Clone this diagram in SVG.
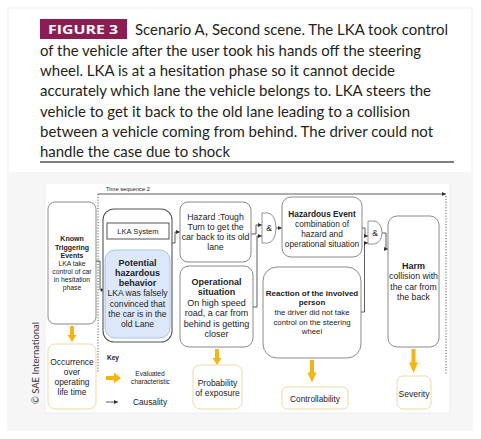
<svg xmlns="http://www.w3.org/2000/svg" width="481" height="439" viewBox="0 0 481 439">
<defs>
<style>
.cap{font-family:Lato,"Open Sans","Liberation Sans",sans-serif;font-size:15px;fill:#231f20}
.t{font-family:"Liberation Sans",Arial,sans-serif;fill:#222;text-anchor:middle}
.b{font-weight:bold}
.box{fill:#fff;stroke:#8a8a8a;stroke-width:1}
.ev{fill:#fff;stroke:#f0d9a0;stroke-width:1}
.con{fill:none;stroke:#333;stroke-width:0.8}
.orange{fill:#f6b50e}
</style>
<marker id="ah" viewBox="0 0 6 6" refX="6" refY="3" markerWidth="4" markerHeight="4" orient="auto" markerUnits="userSpaceOnUse">
<path d="M0,0 L6,3 L0,6 Z" fill="#333"/>
</marker>
<path id="oa" d="M-2,0 H2 V9 H4.5 L0,16 L-4.5,9 H-2 Z"/>
</defs>
<rect x="0" y="0" width="481" height="439" fill="#ffffff"/>
<rect x="8" y="8" width="464" height="422" fill="#ffffff" stroke="#ededed" stroke-width="1"/>
<rect x="8.5" y="172" width="463" height="257.5" fill="#f6f6f6"/>
<rect x="45" y="183" width="405" height="230" fill="#ffffff" stroke="#ececec" stroke-width="0.8"/>

<!-- caption -->
<g id="caption">
<rect x="40" y="19" width="87" height="20" fill="#8c1d52"/>
<text x="48" y="34" font-family="'Open Sans','Liberation Sans',sans-serif" font-weight="bold" font-size="12.5" fill="#ffffff" textLength="70" lengthAdjust="spacingAndGlyphs">FIGURE 3</text>
<text class="cap" x="135" y="35" textLength="313" lengthAdjust="spacingAndGlyphs">Scenario A, Second scene. The LKA took control</text>
<text class="cap" x="40" y="55.5" textLength="381" lengthAdjust="spacingAndGlyphs">of the vehicle after the user took his hands off the steering</text>
<text class="cap" x="40" y="75.8" textLength="355" lengthAdjust="spacingAndGlyphs">wheel. LKA is at a hesitation phase so it cannot decide</text>
<text class="cap" x="40" y="96.2" textLength="391" lengthAdjust="spacingAndGlyphs">accurately which lane the vehicle belongs to. LKA steers the</text>
<text class="cap" x="40" y="116.6" textLength="370" lengthAdjust="spacingAndGlyphs">vehicle to get it back to the old lane leading to a collision</text>
<text class="cap" x="40" y="137" textLength="393" lengthAdjust="spacingAndGlyphs">between a vehicle coming from behind. The driver could not</text>
<text class="cap" x="40" y="157.4" textLength="190" lengthAdjust="spacingAndGlyphs">handle the case due to shock</text>
<line x1="40" y1="162" x2="454" y2="162" stroke="#555" stroke-width="1.5"/>
</g>

<text x="39" y="404" transform="rotate(-90 39 404)" font-family="Lato,'Open Sans',sans-serif" font-size="10" fill="#333" textLength="82" lengthAdjust="spacingAndGlyphs">© SAE International</text>

<!-- connectors -->
<g id="connectors">
<text class="t" x="128" y="190.5" font-size="6" text-anchor="middle" textLength="44" lengthAdjust="spacingAndGlyphs">Time sequence 2</text>
<line class="con" x1="98" y1="194" x2="446" y2="194" marker-end="url(#ah)"/>
<line class="con" x1="98" y1="194" x2="98" y2="373" stroke-dasharray="1.2 1.6"/>
<line class="con" x1="446" y1="196" x2="446" y2="375" stroke-dasharray="1.2 1.6"/>
<path class="con" d="M96,261 H100 V290 H104.5" marker-end="url(#ah)"/>
<path class="con" d="M172,243 H175 V232 H180" marker-end="url(#ah)"/>
<path class="con" d="M251,234 H256 V225 H262" marker-end="url(#ah)"/>
<path class="con" d="M253,307 H257 V236 H262" marker-end="url(#ah)"/>
<path class="con" d="M276,228 H282" marker-end="url(#ah)"/>
<path class="con" d="M362,228 H365 V236 H368" marker-end="url(#ah)"/>
<path class="con" d="M361,312 H364.5 V243 H368" marker-end="url(#ah)"/>
<path class="con" d="M382,233 H386 V249 H388" marker-end="url(#ah)"/>
<use href="#oa" class="orange" transform="translate(72,326)"/>
<use href="#oa" class="orange" transform="translate(217,349)"/>
<use href="#oa" class="orange" transform="translate(312,360) scale(1,1.4)"/>
<use href="#oa" class="orange" transform="translate(413.5,349) scale(1,1.5)"/>
</g>

<g id="kte">
<rect class="box" x="48" y="202" width="48" height="122" rx="7"/>
<text class="t b" font-size="7" x="72" y="241">Known</text>
<text class="t b" font-size="7" x="72" y="249.5">Triggering</text>
<text class="t b" font-size="7" x="72" y="258">Events</text>
<text class="t" font-size="6.8" x="72" y="266">LKA take</text>
<text class="t" font-size="6.8" x="72" y="274">control of car</text>
<text class="t" font-size="6.8" x="72" y="282">in hesitation</text>
<text class="t" font-size="6.8" x="72" y="290">phase</text>
</g>

<g id="occurrence">
<rect class="ev" x="48" y="344" width="48" height="65" rx="7"/>
<text class="t" font-size="8.4" x="72" y="365">Occurrence</text>
<text class="t" font-size="8.4" x="72" y="375">over</text>
<text class="t" font-size="8.4" x="72" y="385">operating</text>
<text class="t" font-size="8.4" x="72" y="395">life time</text>
</g>

<g id="lka-container">
<rect x="103" y="209" width="69" height="133" rx="11" fill="#fff" stroke="#555" stroke-width="1.1"/>
</g>
<g id="lka-system">
<rect x="107" y="223" width="62" height="16" fill="#fff" stroke="#555" stroke-width="1"/>
<text class="t" font-size="7.6" x="138" y="233.8">LKA System</text>
</g>
<g id="phb">
<rect x="105" y="250" width="65" height="88" rx="10" fill="#dce8fa" stroke="#a8c2e8" stroke-width="1"/>
<text class="t b" font-size="9" x="137.5" y="266">Potential</text>
<text class="t b" font-size="9" x="137.5" y="276">hazardous</text>
<text class="t b" font-size="9" x="137.5" y="286">behavior</text>
<text class="t" font-size="8.6" x="137.5" y="296">LKA was falsely</text>
<text class="t" font-size="8.6" x="137.5" y="306.5">convinced that</text>
<text class="t" font-size="8.6" x="137.5" y="316.5">the car is in the</text>
<text class="t" font-size="8.6" x="137.5" y="326.5">old Lane</text>
</g>

<g id="hazard">
<rect class="box" x="180" y="202" width="71" height="60" rx="8"/>
<text class="t" font-size="8.7" x="215.5" y="220">Hazard :Tough</text>
<text class="t" font-size="8.7" x="215.5" y="230">Turn to get the</text>
<text class="t" font-size="8.7" x="215.5" y="240">car back to its old</text>
<text class="t" font-size="8.7" x="215.5" y="250">lane</text>
</g>

<g id="opsit">
<rect class="box" x="180" y="266" width="73" height="81" rx="9"/>
<text class="t b" font-size="9" x="216.5" y="285">Operational</text>
<text class="t b" font-size="9" x="216.5" y="295">situation</text>
<text class="t" font-size="9" x="216.5" y="305.5">On high speed</text>
<text class="t" font-size="9" x="216.5" y="316">road, a car from</text>
<text class="t" font-size="9" x="216.5" y="326.5">behind is getting</text>
<text class="t" font-size="9" x="216.5" y="337">closer</text>
</g>

<g id="exposure">
<rect class="ev" x="193" y="365" width="49" height="44" rx="7"/>
<text class="t" font-size="8.5" x="217.5" y="386">Probability</text>
<text class="t" font-size="8.5" x="217.5" y="396">of exposure</text>
</g>

<g id="and1">
<path d="M262,213 H268 A8,15 0 0 1 268,243 H262 Z" fill="#fff" stroke="#888" stroke-width="0.9"/>
<text class="t" font-size="8.5" x="269" y="231">&amp;</text>
</g>

<g id="hazardous-event">
<rect class="box" x="282" y="197" width="80" height="60" rx="9"/>
<text class="t b" font-size="8.3" x="322" y="217">Hazardous Event</text>
<text class="t" font-size="8.3" x="322" y="227">combination of</text>
<text class="t" font-size="8.3" x="322" y="237">hazard and</text>
<text class="t" font-size="8.3" x="322" y="247">operational situation</text>
</g>

<g id="reaction">
<rect class="box" x="263" y="267" width="98" height="91" rx="14"/>
<text class="t b" font-size="8" x="312" y="296">Reaction of the involved</text>
<text class="t b" font-size="8" x="312" y="305">person</text>
<text class="t" font-size="7.8" x="312" y="315">the driver did not take</text>
<text class="t" font-size="7.8" x="312" y="324.5">control on the steering</text>
<text class="t" font-size="7.8" x="312" y="334">wheel</text>
</g>

<g id="controllability">
<rect class="ev" x="282" y="387" width="66" height="22" rx="5"/>
<text class="t" font-size="8.3" x="315" y="401.5">Controllability</text>
</g>

<g id="and2">
<path d="M368,221 H374 A8,11.5 0 0 1 374,244 H368 Z" fill="#fff" stroke="#888" stroke-width="0.9"/>
<text class="t" font-size="8.5" x="375" y="236">&amp;</text>
</g>

<g id="harm">
<rect class="box" x="388" y="216" width="51" height="131" rx="9"/>
<text class="t b" font-size="9" x="413.5" y="269">Harm</text>
<text class="t" font-size="8.7" x="413.5" y="279">collision with</text>
<text class="t" font-size="8.7" x="413.5" y="289.5">the car from</text>
<text class="t" font-size="8.7" x="413.5" y="300">the back</text>
</g>

<g id="severity">
<rect class="ev" x="397" y="376" width="34" height="33" rx="6"/>
<text class="t" font-size="8.6" x="414" y="397">Severity</text>
</g>

<g id="key">
<text class="t b" font-size="6.5" x="113" y="359.5">Key</text>
<path d="M106,376 H114 V372.5 L121,378 L114,383.5 V380 H106 Z" class="orange"/>
<text class="t" font-size="6.6" x="150" y="375.5" fill="#444">Evaluated</text>
<text class="t" font-size="6.6" x="150.5" y="384" fill="#444">characteristic</text>
<line class="con" x1="106" y1="402" x2="118" y2="402" marker-end="url(#ah)"/>
<text class="t" font-size="8.3" x="150" y="405" fill="#333">Causality</text>
</g>
</svg>
